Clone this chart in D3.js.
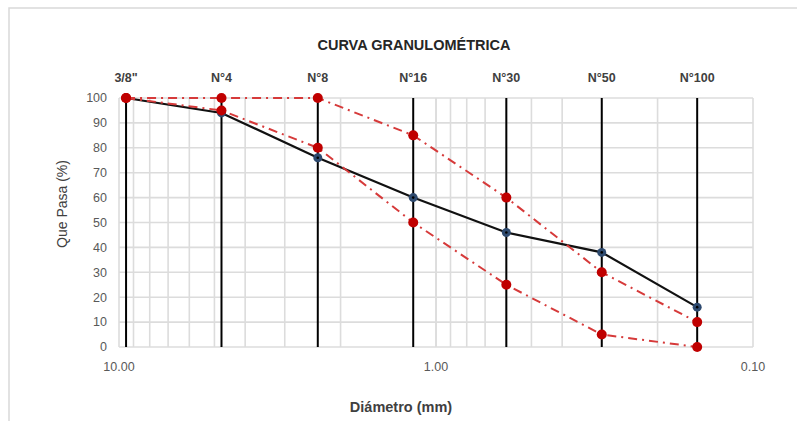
<!DOCTYPE html>
<html lang="es">
<head>
<meta charset="utf-8">
<title>Curva granulométrica</title>
<script src="https://d3js.org/d3.v7.min.js"></script>
<style>
  body { margin: 0; background: #fff; }
  text { font-family: "Liberation Sans", Arial, sans-serif; }
</style>
</head>
<body>
<script>
// sieves and openings (mm)
var tamices = ["3/8\"", "N°4", "N°8", "N°16", "N°30", "N°50", "N°100"];
var aberturas = [9.5, 4.75, 2.36, 1.18, 0.6, 0.3, 0.15];
// % passing
var muestra = [100, 94, 76, 60, 46, 38, 16];
var limiteSup = [100, 100, 100, 85, 60, 30, 10];
var limiteInf = [100, 95, 80, 50, 25, 5, 0];
var yTicks = [0, 10, 20, 30, 40, 50, 60, 70, 80, 90, 100];
var xTicks = [10, 1, 0.1];

var w = 797, h = 421;
// note: "top" is reserved on window, so plot edges get their own names
var plotLeft = 119, plotRight = 753, plotTop = 98, plotBottom = 347;

var svg = d3.select("body").append("svg")
    .attr("width", w).attr("height", h);

// chart area frame
svg.append("rect")
    .attr("x", 9).attr("y", 8)
    .attr("width", w + 10).attr("height", h + 10)
    .attr("fill", "#fff").attr("stroke", "#d9d9d9").attr("stroke-width", 1.5);

var x = d3.scaleLog().domain([10, 0.1]).range([plotLeft, plotRight]);
var y = d3.scaleLinear().domain([0, 100]).range([plotBottom, plotTop]);

// minor log grid
var gridX = [];
[1, 0.1].forEach(function(d) {
    for (var k = 1; k <= 10; k++) gridX.push(+(d * k).toFixed(2));
});
svg.append("g").selectAll("line")
    .data(gridX).enter().append("line")
    .attr("x1", function(d) { return x(d); })
    .attr("x2", function(d) { return x(d); })
    .attr("y1", plotTop).attr("y2", plotBottom)
    .attr("stroke", "#dcdcdc").attr("stroke-width", 1.6);

svg.append("g").selectAll("line")
    .data(yTicks).enter().append("line")
    .attr("x1", plotLeft).attr("x2", plotRight)
    .attr("y1", function(d) { return y(d); })
    .attr("y2", function(d) { return y(d); })
    .attr("stroke", "#dcdcdc").attr("stroke-width", 1.6);

// y tick labels
svg.append("g").selectAll("text")
    .data(yTicks).enter().append("text")
    .attr("x", 107).attr("y", function(d) { return y(d); })
    .attr("dy", "0.35em").attr("text-anchor", "end")
    .attr("font-size", 12.5).attr("fill", "#595959")
    .text(function(d) { return d; });

// x tick labels
svg.append("g").selectAll("text")
    .data(xTicks).enter().append("text")
    .attr("x", function(d) { return x(d); }).attr("y", 367)
    .attr("dy", "0.35em").attr("text-anchor", "middle")
    .attr("font-size", 12.5).attr("fill", "#595959")
    .text(function(d) { return d3.format(".2f")(d); });

// sieve lines
svg.append("g").selectAll("line")
    .data(aberturas).enter().append("line")
    .attr("x1", function(d) { return x(d); })
    .attr("x2", function(d) { return x(d); })
    .attr("y1", plotTop).attr("y2", plotBottom)
    .attr("stroke", "#000").attr("stroke-width", 2);

// sieve names on top
svg.append("g").selectAll("text")
    .data(tamices).enter().append("text")
    .attr("x", function(d, i) { return x(aberturas[i]); }).attr("y", 78)
    .attr("dy", "0.35em").attr("text-anchor", "middle")
    .attr("font-size", 12.5).attr("font-weight", "bold").attr("fill", "#404040")
    .text(function(d) { return d; });

var line = d3.line()
    .x(function(d, i) { return x(aberturas[i]); })
    .y(function(d) { return y(d); });

// sample curve
svg.append("path").datum(muestra)
    .attr("d", line).attr("fill", "none")
    .attr("stroke", "#111").attr("stroke-width", 2.2);
svg.append("g").selectAll("circle")
    .data(muestra).enter().append("circle")
    .attr("cx", function(d, i) { return x(aberturas[i]); })
    .attr("cy", function(d) { return y(d); })
    .attr("r", 4.5).attr("fill", "#2e4a6f");
svg.append("g").selectAll("circle")
    .data(muestra).enter().append("circle")
    .attr("cx", function(d, i) { return x(aberturas[i]); })
    .attr("cy", function(d) { return y(d); })
    .attr("r", 1.3).attr("fill", "#000");

// limits
[limiteSup, limiteInf].forEach(function(serie) {
    svg.append("path").datum(serie)
        .attr("d", line).attr("fill", "none")
        .attr("stroke", "#d63a3a").attr("stroke-width", 2)
        .attr("stroke-dasharray", "9,5,2,5");
    svg.append("g").selectAll("circle")
        .data(serie).enter().append("circle")
        .attr("cx", function(d, i) { return x(aberturas[i]); })
        .attr("cy", function(d) { return y(d); })
        .attr("r", 5).attr("fill", "#c00000");
});

// title and axis titles
svg.append("text")
    .attr("x", 414).attr("y", 45).attr("dy", "0.35em")
    .attr("text-anchor", "middle")
    .attr("font-size", 14.5).attr("font-weight", "bold").attr("fill", "#262626")
    .text("CURVA GRANULOMÉTRICA");

svg.append("text")
    .attr("transform", "translate(62,204) rotate(-90)")
    .attr("dy", "0.35em").attr("text-anchor", "middle")
    .attr("font-size", 14).attr("fill", "#404040")
    .text("Que Pasa (%)");

svg.append("text")
    .attr("x", 401).attr("y", 407).attr("dy", "0.35em")
    .attr("text-anchor", "middle")
    .attr("font-size", 14.5).attr("font-weight", "bold").attr("fill", "#404040")
    .text("Diámetro (mm)");
</script>
</body>
</html>
